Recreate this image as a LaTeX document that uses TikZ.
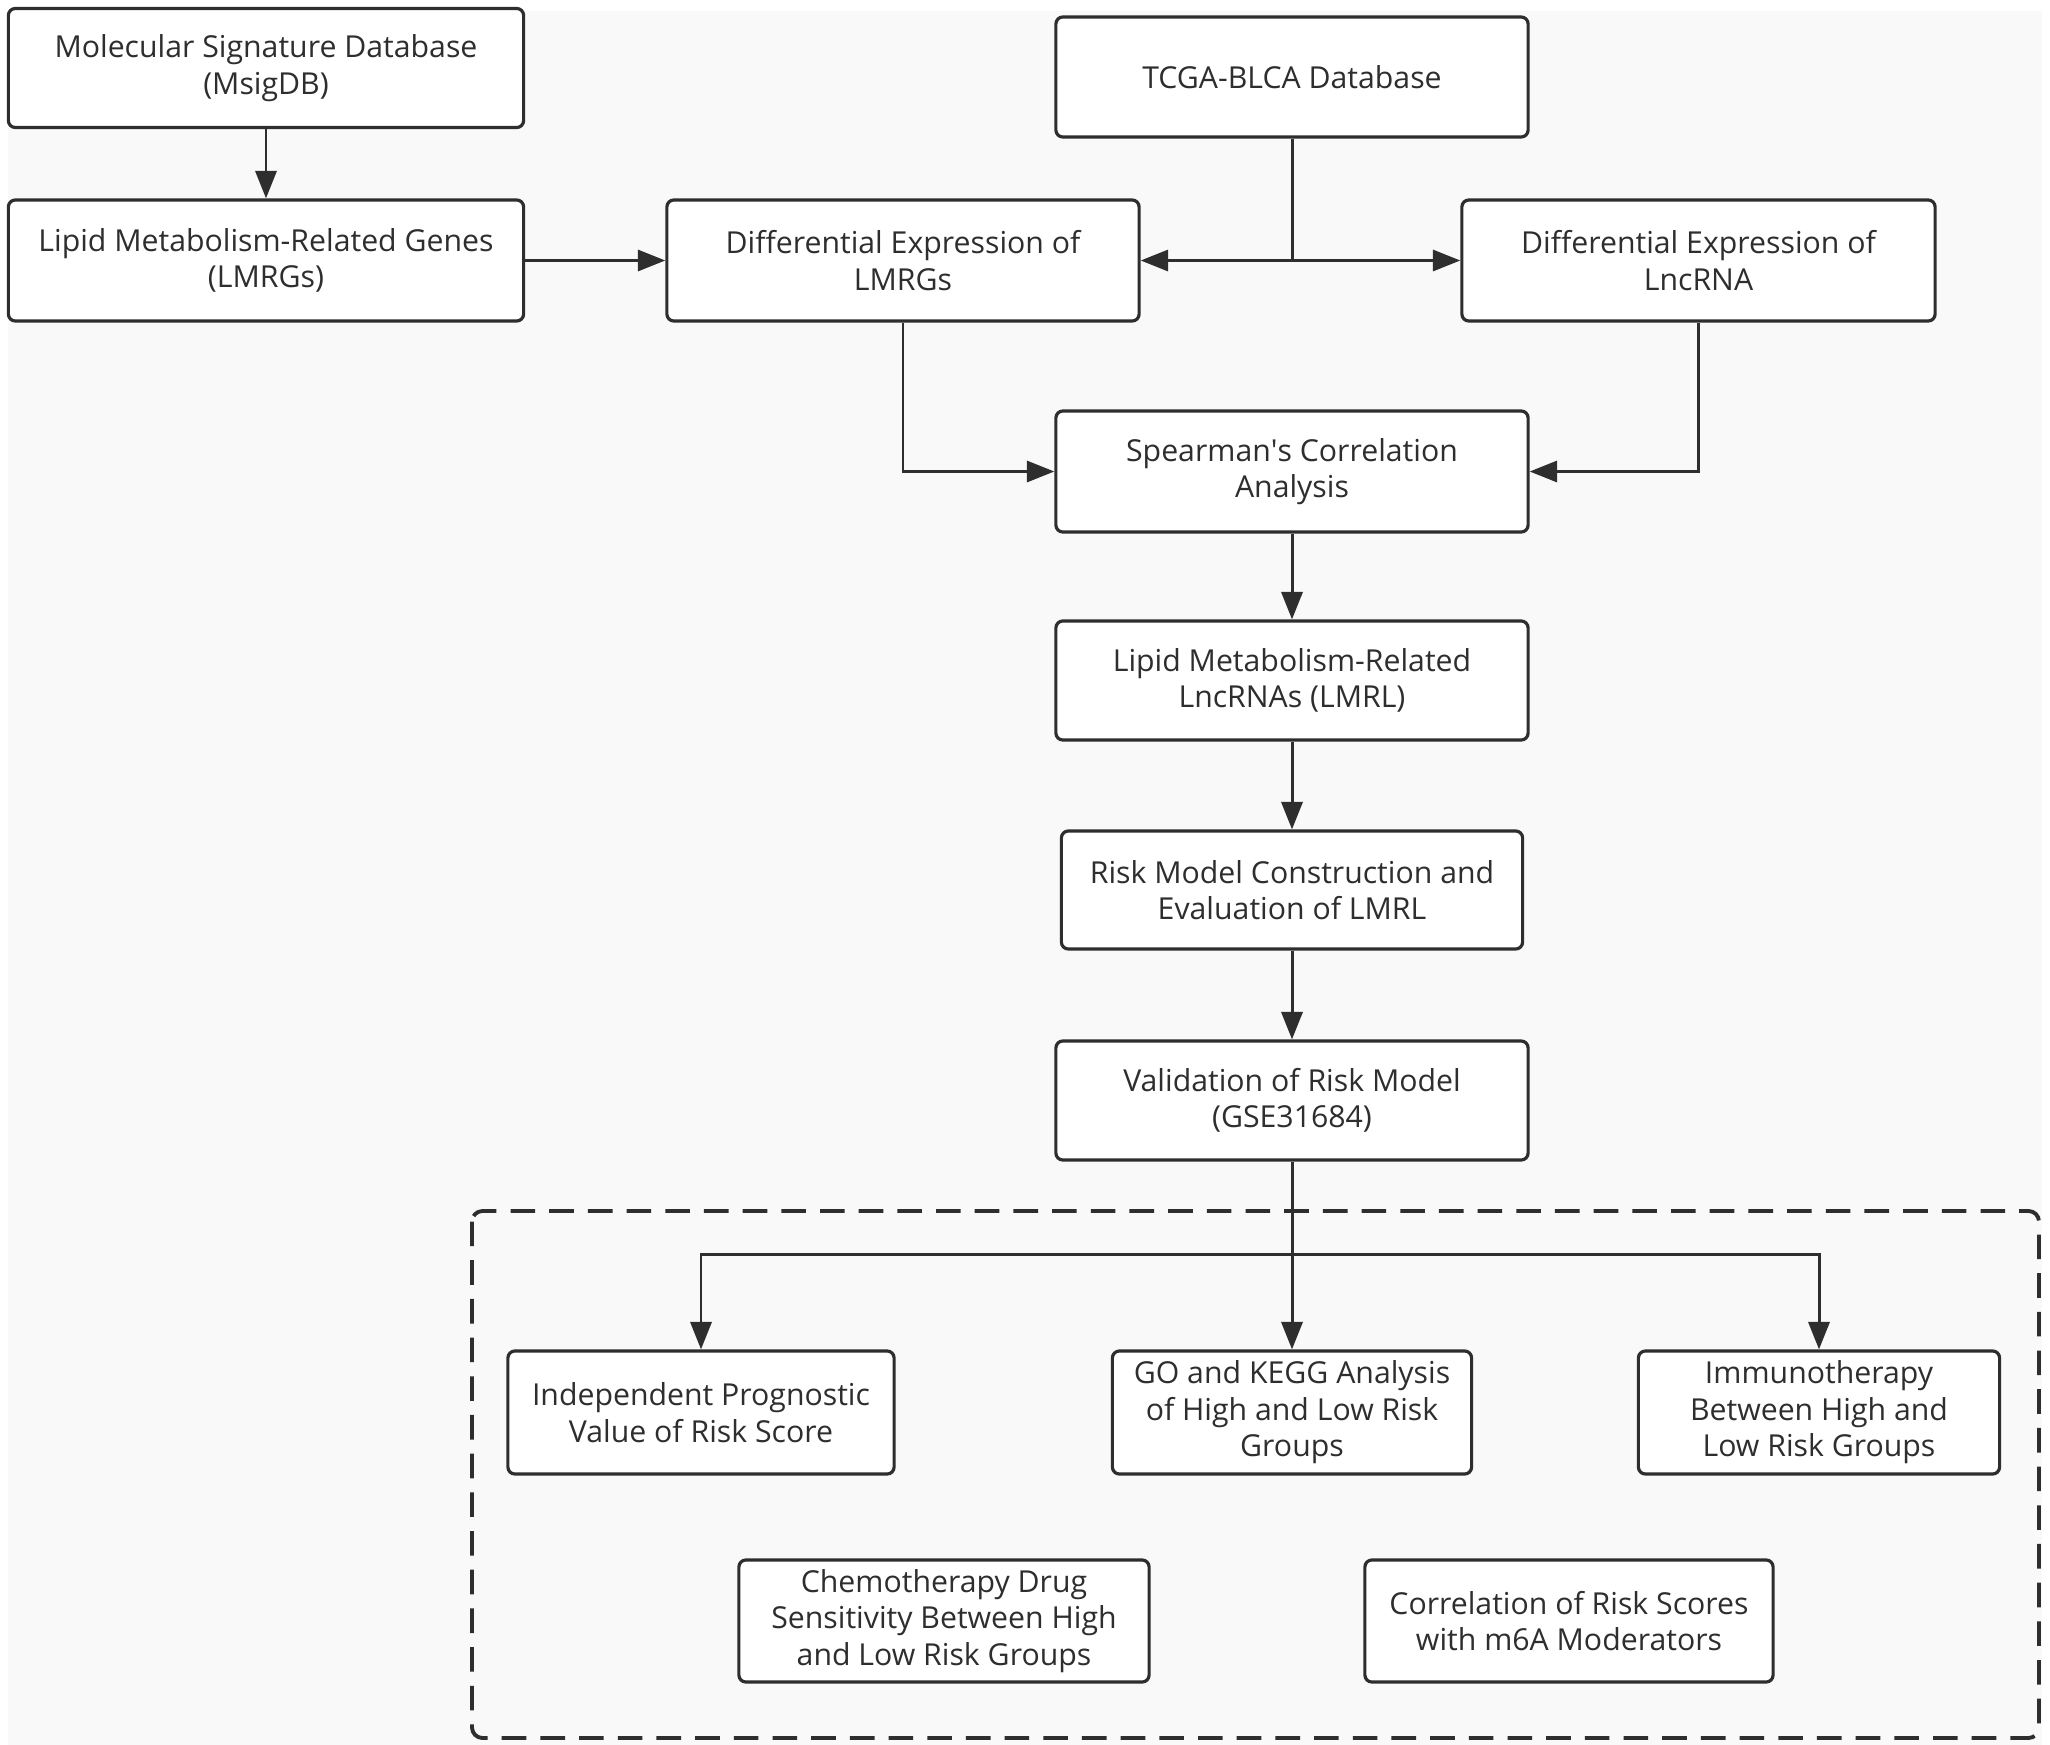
\documentclass[tikz,border=0pt]{standalone}
\usepackage{fontspec}
\setmainfont{Open Sans}
\usetikzlibrary{arrows.meta}
\definecolor{ink}{HTML}{2E2E2E}
\definecolor{bgc}{HTML}{F9F9F9}
\begin{document}
\begin{tikzpicture}[x=0.01cm,y=-0.01cm,
  box/.style={draw=ink, fill=white, line width=0.9pt, rounded corners=2pt,
    align=center, inner sep=0pt, text=ink,
    font=\fontsize{8.6}{10.4}\selectfont},
  arr/.style={draw=ink, line width=0.85pt, -{Triangle[length=7.8pt,width=6pt]}},
  ln/.style={draw=ink, line width=0.85pt},
  grp/.style={draw=ink, line width=1.1pt, dash pattern=on 7pt off 4pt, rounded corners=3pt}
]
\useasboundingbox (0,0) rectangle (2050,1745);
\fill[white] (0,0) rectangle (2050,1745);
\fill[bgc] (8,11) rectangle (2042,1745);

\draw[grp] (472,1211) rectangle (2039,1738);

\node[box, minimum width=5.15cm, minimum height=1.19cm] (msig) at (266,68) {Molecular Signature Database\\(MsigDB)};
\node[box, minimum width=5.15cm, minimum height=1.21cm] (lmrg) at (266,260.5) {Lipid Metabolism-Related Genes\\(LMRGs)};
\node[box, minimum width=4.72cm, minimum height=1.21cm] (dlmrg) at (903,260.5) {Differential Expression of\\LMRGs};
\node[box, minimum width=4.72cm, minimum height=1.20cm] (tcga) at (1292,77) {TCGA-BLCA Database};
\node[box, minimum width=4.73cm, minimum height=1.21cm] (dlnc) at (1698.5,260.5) {Differential Expression of\\LncRNA};
\node[box, minimum width=4.72cm, minimum height=1.21cm] (spear) at (1292,471.5) {Spearman\textquotesingle s Correlation\\Analysis};
\node[box, minimum width=4.72cm, minimum height=1.19cm] (lmrl) at (1292,680.5) {Lipid Metabolism-Related\\LncRNAs (LMRL)};
\node[box, minimum width=4.61cm, minimum height=1.18cm] (risk) at (1292,890) {Risk Model Construction and\\Evaluation of LMRL};
\node[box, minimum width=4.72cm, minimum height=1.19cm] (valid) at (1292,1100.5) {Validation of Risk Model\\(GSE31684)};

\node[box, minimum width=3.86cm, minimum height=1.23cm] (indep) at (701,1412.5) {Independent Prognostic\\Value of Risk Score};
\node[box, minimum width=3.59cm, minimum height=1.23cm] (go) at (1292,1412.5) {GO and KEGG Analysis\\of High and Low Risk\\Groups};
\node[box, minimum width=3.61cm, minimum height=1.23cm] (immu) at (1819,1412.5) {Immunotherapy\\Between High and\\Low Risk Groups};
\node[box, minimum width=4.10cm, minimum height=1.22cm] (chemo) at (944,1621) {Chemotherapy Drug\\Sensitivity Between High\\and Low Risk Groups};
\node[box, minimum width=4.08cm, minimum height=1.22cm] (corr) at (1569,1621) {Correlation of Risk Scores\\with m6A Moderators};

\coordinate (j1) at (1292,260.5);
\coordinate (j2) at (1292,1254.6);

\draw[arr] (msig) -- (lmrg);
\draw[arr] (lmrg) -- (dlmrg);
\draw[ln] (tcga.south) -- (j1);
\draw[arr] (j1) -- (dlmrg.east);
\draw[arr] (j1) -- (dlnc.west);
\draw[arr] (dlmrg.south) |- (spear.west);
\draw[arr] (dlnc.south) |- (spear.east);
\draw[arr] (spear) -- (lmrl);
\draw[arr] (lmrl) -- (risk);
\draw[arr] (risk) -- (valid);
\draw[arr] (valid.south) -- (go.north);
\draw[arr] (j2) -| (indep.north);
\draw[arr] (j2) -| (immu.north);
\end{tikzpicture}
\end{document}
